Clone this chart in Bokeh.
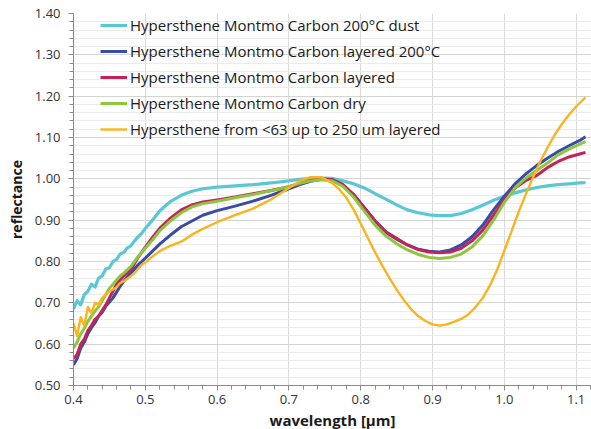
from bokeh.plotting import figure
from bokeh.models import (Legend, LegendItem, FixedTicker, NumeralTickFormatter, Range1d)
from bokeh.embed import file_html
from bokeh.resources import INLINE

# ---- data ----
wavelength = [0.400, 0.405, 0.410, 0.415, 0.420, 0.425, 0.430, 0.435, 0.440, 0.445,
              0.450, 0.455, 0.460, 0.465, 0.470, 0.475, 0.480, 0.485, 0.490, 0.495,
              0.500, 0.510, 0.520, 0.535, 0.550, 0.565, 0.580, 0.600, 0.625, 0.650,
              0.675, 0.700, 0.715, 0.730, 0.745, 0.760, 0.775, 0.790, 0.805, 0.820,
              0.835, 0.850, 0.865, 0.880, 0.895, 0.910, 0.925, 0.940, 0.955, 0.970,
              0.985, 1.000, 1.015, 1.030, 1.045, 1.060, 1.075, 1.090, 1.105, 1.113]

dust_200C = [0.685, 0.705, 0.695, 0.720, 0.728, 0.745, 0.738, 0.760, 0.765, 0.782,
             0.785, 0.800, 0.805, 0.818, 0.822, 0.833, 0.838, 0.850, 0.860, 0.868,
             0.880, 0.900, 0.922, 0.945, 0.960, 0.970, 0.976, 0.980, 0.983, 0.986,
             0.990, 0.995, 0.999, 1.001, 1.002, 1.001, 0.995, 0.988, 0.978, 0.964,
             0.951, 0.937, 0.925, 0.918, 0.913, 0.911, 0.911, 0.916, 0.925, 0.936,
             0.948, 0.958, 0.966, 0.973, 0.979, 0.983, 0.986, 0.988, 0.990, 0.991]

layered_200C = [0.550, 0.565, 0.590, 0.605, 0.625, 0.640, 0.652, 0.668, 0.677, 0.692,
                0.702, 0.712, 0.726, 0.740, 0.752, 0.762, 0.772, 0.782, 0.792, 0.800,
                0.808, 0.825, 0.842, 0.864, 0.884, 0.898, 0.912, 0.923, 0.934, 0.946,
                0.960, 0.976, 0.986, 0.994, 0.999, 0.998, 0.986, 0.962, 0.930, 0.898,
                0.871, 0.854, 0.840, 0.830, 0.825, 0.823, 0.828, 0.840, 0.860, 0.888,
                0.925, 0.958, 0.988, 1.012, 1.032, 1.050, 1.066, 1.080, 1.093, 1.102]

layered = [0.565, 0.575, 0.600, 0.612, 0.633, 0.645, 0.660, 0.668, 0.682, 0.695,
           0.712, 0.728, 0.745, 0.755, 0.765, 0.772, 0.780, 0.795, 0.810, 0.822,
           0.835, 0.858, 0.880, 0.905, 0.925, 0.937, 0.944, 0.949, 0.956, 0.964,
           0.972, 0.981, 0.989, 0.996, 1.000, 0.998, 0.986, 0.962, 0.930, 0.898,
           0.872, 0.856, 0.840, 0.829, 0.823, 0.821, 0.823, 0.832, 0.850, 0.876,
           0.912, 0.950, 0.978, 0.996, 1.008, 1.027, 1.042, 1.053, 1.060, 1.064]

dry = [0.590, 0.605, 0.625, 0.638, 0.655, 0.668, 0.680, 0.690, 0.705, 0.720,
       0.735, 0.745, 0.755, 0.765, 0.772, 0.780, 0.788, 0.800, 0.812, 0.822,
       0.832, 0.852, 0.874, 0.898, 0.918, 0.932, 0.940, 0.946, 0.954, 0.962,
       0.971, 0.981, 0.989, 0.995, 0.998, 0.995, 0.982, 0.956, 0.922, 0.888,
       0.862, 0.843, 0.828, 0.817, 0.810, 0.807, 0.810, 0.818, 0.835, 0.862,
       0.900, 0.943, 0.978, 1.002, 1.020, 1.038, 1.058, 1.072, 1.084, 1.090]

# the coarse-grain sample has a deep band, read at a finer step past 0.75 µm
wavelength_coarse = wavelength[:35] + [
    0.760, 0.770, 0.780, 0.790, 0.800, 0.810, 0.820, 0.830, 0.840, 0.850,
    0.860, 0.870, 0.880, 0.890, 0.900, 0.910, 0.920, 0.930, 0.940, 0.950,
    0.960, 0.970, 0.980, 0.990, 1.000, 1.010, 1.020, 1.030, 1.040, 1.050,
    1.060, 1.070, 1.080, 1.090, 1.100, 1.113]

coarse_layered = [0.650, 0.620, 0.665, 0.645, 0.690, 0.675, 0.700, 0.695, 0.712, 0.720,
                  0.728, 0.732, 0.738, 0.748, 0.752, 0.758, 0.765, 0.772, 0.782, 0.792,
                  0.798, 0.812, 0.825, 0.838, 0.848, 0.865, 0.879, 0.895, 0.912, 0.928,
                  0.950, 0.978, 0.995, 1.004, 1.004,
                  0.990, 0.975, 0.954, 0.926, 0.892, 0.857, 0.822, 0.790, 0.760, 0.732,
                  0.707, 0.685, 0.668, 0.656, 0.648, 0.645, 0.648, 0.654, 0.661, 0.672,
                  0.690, 0.712, 0.742, 0.780, 0.826, 0.873, 0.920, 0.963, 1.004, 1.042,
                  1.075, 1.106, 1.132, 1.155, 1.175, 1.197]

series_names = ["Hypersthene Montmo Carbon 200°C dust",
                "Hypersthene Montmo Carbon layered 200°C",
                "Hypersthene Montmo Carbon layered",
                "Hypersthene Montmo Carbon dry",
                "Hypersthene from <63 up to 250 um layered"]
series_x = [wavelength, wavelength, wavelength, wavelength, wavelength_coarse]
series_values = [dust_200C, layered_200C, layered, dry, coarse_layered]
series_colors = ["#5BC7D5", "#3A4BA6", "#C2245A", "#8DC63F", "#F9B41E"]
series_widths = [3.2, 3.0, 3.0, 3.0, 2.4]

# tick positions
x_major_ticks = [0.4, 0.5, 0.6, 0.7, 0.8, 0.9, 1.0, 1.1]
x_minor_ticks = [round(0.4 + 0.02 * i, 2) for i in range(37)]
y_major_ticks = [0.5, 0.6, 0.7, 0.8, 0.9, 1.0, 1.1, 1.2, 1.3, 1.4]
y_minor_ticks = [round(0.5 + 0.02 * i, 2) for i in range(46)]

p = figure(frame_width=518, frame_height=372, output_backend="svg", toolbar_location=None,
           x_range=Range1d(0.4, 1.1214), y_range=Range1d(0.5, 1.4),
           min_border_left=73, min_border_top=13, min_border_right=0, min_border_bottom=0)
p.outline_line_color = None
p.background_fill_color = "white"

renderers = []
for name, xs, vals, col, w in zip(series_names, series_x, series_values, series_colors, series_widths):
    r = p.line(xs, vals, line_color=col, line_width=w, line_join="round")
    renderers.append((name, r))

# axes
p.xaxis.ticker = FixedTicker(ticks=x_major_ticks, minor_ticks=x_minor_ticks)
p.yaxis.ticker = FixedTicker(ticks=y_major_ticks, minor_ticks=y_minor_ticks)
p.xaxis.formatter = NumeralTickFormatter(format="0.0")
p.yaxis.formatter = NumeralTickFormatter(format="0.00")
for ax in (p.xaxis, p.yaxis):
    ax.axis_line_color = "#8c8c8c"
    ax.major_tick_line_color = "#8c8c8c"
    ax.minor_tick_line_color = "#8c8c8c"
    ax.major_tick_in = 0
    ax.major_tick_out = 5
    ax.minor_tick_in = 0
    ax.minor_tick_out = 4
    ax.major_label_text_font = "Open Sans"
    ax.major_label_text_font_size = "13px"
    ax.major_label_text_color = "#333333"
    ax.axis_label_text_font = "Open Sans"
    ax.axis_label_text_font_style = "bold"
    ax.axis_label_text_color = "#1a1a1a"
p.xaxis.axis_label = "wavelength [µm]"
p.yaxis.axis_label = "reflectance"
p.xaxis.axis_label_text_font_size = "15px"
p.yaxis.axis_label_text_font_size = "14px"
p.xaxis.major_label_standoff = 4
p.xaxis.axis_label_standoff = 3
p.yaxis.major_label_standoff = 8
p.yaxis.axis_label_standoff = 6

# grids
p.xgrid.grid_line_color = "#d9d9d9"
p.ygrid.grid_line_color = "#d4d4d4"
p.ygrid.minor_grid_line_color = "#ebebeb"

legend = Legend(items=[LegendItem(label=n, renderers=[r]) for n, r in renderers],
                location=(27, 372 - 126 - 1),
                label_text_font="Open Sans", label_text_font_size="15px",
                label_text_color="#1a1a1a",
                glyph_width=27, glyph_height=22, label_height=22, spacing=4,
                label_standoff=3, padding=0, margin=0,
                border_line_color=None, background_fill_alpha=0)
p.add_layout(legend)

open("out.html", "w").write(file_html(p, INLINE))
